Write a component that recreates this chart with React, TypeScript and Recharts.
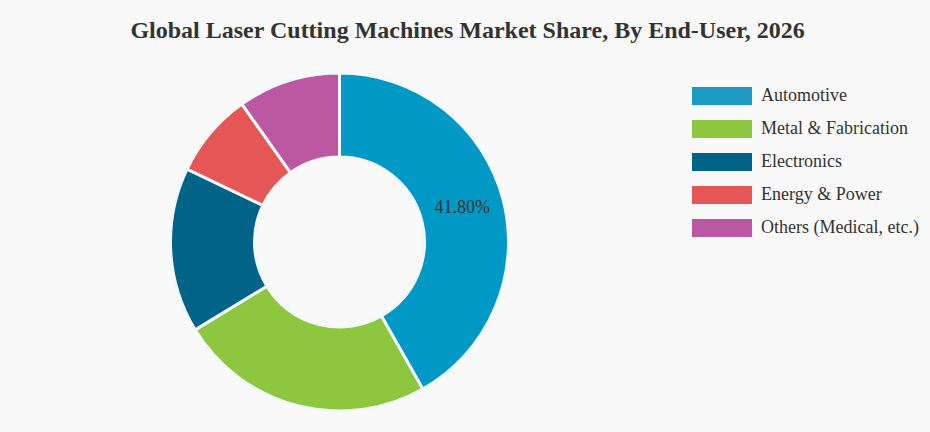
import { PieChart, Pie, Cell, Legend } from "recharts";

const segments = ["Automotive", "Metal & Fabrication", "Electronics", "Energy & Power", "Others (Medical, etc.)"];
const shares = [41.8, 24.5, 15.8, 8.1, 9.8];
const colors = ["#0099c6", "#8dc63f", "#006388", "#e55757", "#bc58a2"];
const legendColors = ["#1b9ac4", "#8dc63f", "#006388", "#e55757", "#bc58a2"];

const data = segments.map((name, i) => ({ name, value: shares[i] }));
const serif = "'Liberation Serif', serif";
const RADIAN = Math.PI / 180;

function renderLabel({ cx, cy, midAngle, innerRadius, outerRadius, index, value }: any) {
  if (index !== 0) return null;
  const r = (innerRadius + outerRadius) / 2;
  const x = cx + r * Math.cos(-midAngle * RADIAN);
  const y = cy + r * Math.sin(-midAngle * RADIAN) - 3;
  return (
    <text x={x} y={y} textAnchor="middle" dominantBaseline="central" fill="#333" fontSize={18} fontFamily={serif}>
      {value.toFixed(2)}%
    </text>
  );
}

function LegendList() {
  return (
    <div>
      {segments.map((s, i) => (
        <div key={s} style={{ display: "flex", alignItems: "center", height: 33 }}>
          <div style={{ width: 60, height: 18, background: legendColors[i], marginRight: 9 }} />
          <span style={{ fontFamily: serif, fontSize: 18, color: "#333", whiteSpace: "nowrap", position: "relative", top: -1 }}>{s}</span>
        </div>
      ))}
    </div>
  );
}

export default function App() {
  return (
    <div style={{ position: "absolute", left: 0, top: 0, width: 930, height: 432, background: "#f9f9f9", overflow: "hidden" }}>
      <div
        style={{
          position: "absolute",
          left: 0,
          top: 17,
          width: 935,
          textAlign: "center",
          fontFamily: serif,
          fontWeight: "bold",
          fontSize: 24,
          color: "#333",
        }}
      >
        Global Laser Cutting Machines Market Share, By End-User, 2026
      </div>
      <PieChart width={930} height={432} margin={{ top: 0, right: 0, bottom: 0, left: 0 }}>
        <Pie
          data={data}
          dataKey="value"
          nameKey="name"
          cx={339.5}
          cy={242}
          innerRadius={85}
          outerRadius={169}
          startAngle={90}
          endAngle={-270}
          stroke="#f5f8fa"
          strokeWidth={3}
          label={renderLabel}
          labelLine={false}
          isAnimationActive={false}
        >
          {data.map((d, i) => (
            <Cell key={d.name} fill={colors[i]} />
          ))}
        </Pie>
        <Legend
          layout="vertical"
          content={<LegendList />}
          wrapperStyle={{ position: "absolute", left: 692, top: 79.5, width: 238 }}
        />
      </PieChart>
    </div>
  );
}
